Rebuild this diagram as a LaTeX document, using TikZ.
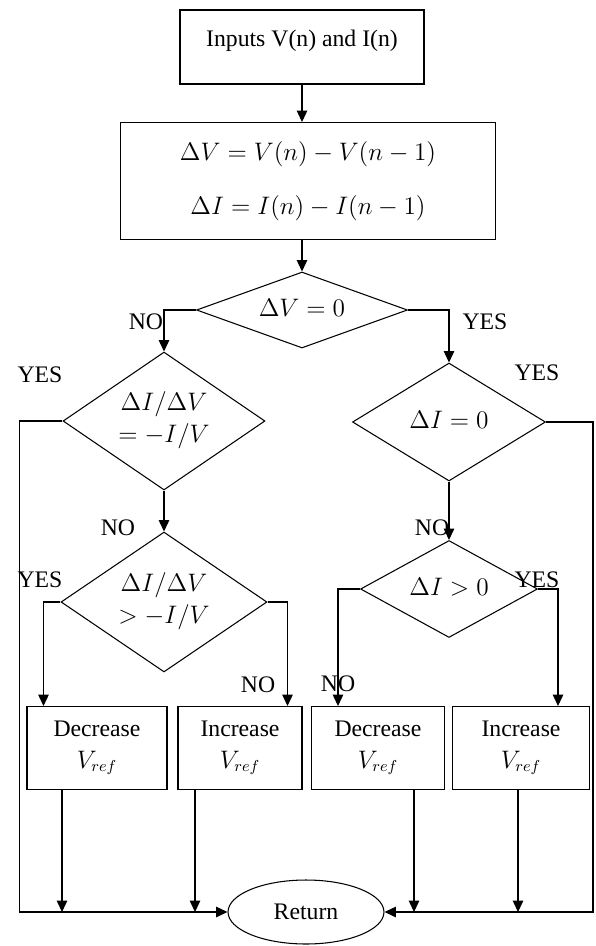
\documentclass[tikz,border=0pt]{standalone}
\usepackage{fontspec}
\setmainfont{Liberation Serif}
\usetikzlibrary{arrows.meta,shapes.geometric}
\newcommand{\zbox}[1]{\raisebox{-3.5pt}[0pt][0pt]{\makebox[0pt]{#1}}}

\begin{document}
\begin{tikzpicture}[x=.02cm,y=-.02cm,font=\fontsize{13.5}{16}\selectfont,line width=.6pt,
  box/.style={draw,rectangle,inner sep=0pt,align=center},
  dec/.style={draw,diamond,inner sep=0pt},
  lbl/.style={inner sep=0pt},
  arr/.style={-{Triangle[length=6.5pt,width=6pt]}}]
\useasboundingbox (0,0) rectangle (595,946);
\node[box,minimum width=4.88cm,minimum height=1.48cm] (in) at (302,47) {\raisebox{0pt}[0pt][0pt]{Inputs V(n) and I(n)}};
\node[box,minimum width=7.52cm,minimum height=2.34cm] (calc) at (308,181) {$\Delta V=V(n)-V(n-1)$\\[15pt]$\Delta I=I(n)-I(n-1)$};
\node[dec,minimum width=4.22cm,minimum height=1.52cm] (d1) at (302,310) {\zbox{$\Delta V=0$}};
\node[dec,minimum width=4.04cm,minimum height=2.76cm] (d2) at (164,421) {\zbox{\begin{tabular}{@{}c@{}}$\Delta I/\Delta V$\\[2pt]$=-I/V$\end{tabular}}};
\node[dec,minimum width=4.12cm,minimum height=2.8cm] (d3) at (164,602) {\zbox{\begin{tabular}{@{}c@{}}$\Delta I/\Delta V$\\[2pt]$>-I/V$\end{tabular}}};
\node[dec,minimum width=3.86cm,minimum height=2.36cm] (d4) at (449,422) {\zbox{$\Delta I=0$}};
\node[dec,minimum width=3.54cm,minimum height=1.94cm] (d5) at (449,589) {\zbox{$\Delta I>0$}};
\foreach \n/\x/\w/\act in {b1/97/2.8/Decrease,b2/240/2.48/Increase,b3/378/2.66/Decrease,b4/521/2.74/Increase}
  \node[box,minimum width=\w cm,minimum height=1.66cm] (\n) at (\x,748) {\act\\[2pt]$V_{ref}$};
\node[draw,ellipse,minimum width=3.12cm,minimum height=1.28cm,inner sep=0pt] (ret) at (306,912) {Return};
\foreach \n/\x/\y/\t in {l1/146/322/NO,l2/485/322/YES,l3/40/375/YES,l4/118/528/NO,l5/537/373/YES,l6/432/528/NO,l7/40/580/YES,l8/258/685/NO,l9/338/684/NO,l10/537/580/YES}
  \node[lbl] (\n) at (\x,\y) {\t};
\draw[arr] (in) -- (in.south |- calc.north);
\draw[arr] (calc.south -| d1.north) -- (d1.north);
\draw[arr] (d1.west) -| (d2.north);
\draw[arr] (d1.east) -| (d4.north);
\draw[arr] (d2.south) -- (d3.north);
\draw[arr] (d4.south) -- (d5.north);
\draw[arr] (d2.west) -- ++(-43,0) |- (ret.west);
\draw[arr] (d4.east) -- ++(47,0) |- (ret.east);
\draw[arr] (d3.west) -- ++(-17,0) coordinate (t1) -- (t1 |- b1.north);
\draw[arr] (d3.east) -- ++(20,0) coordinate (t2) -- (t2 |- b2.north);
\draw[arr] (d5.west) -- ++(-22,0) coordinate (t3) -- (t3 |- b3.north);
\draw[arr] (d5.east) -- ++(20,0) coordinate (t4) -- (t4 |- b4.north);
\foreach \n/\dx in {b1/-35,b2/-45,b3/36,b4/-3}
  \draw[arr] ([xshift=\dx*.02cm]\n.south) coordinate (s\n) -- (s\n |- ret.west);
\end{tikzpicture}
\end{document}
